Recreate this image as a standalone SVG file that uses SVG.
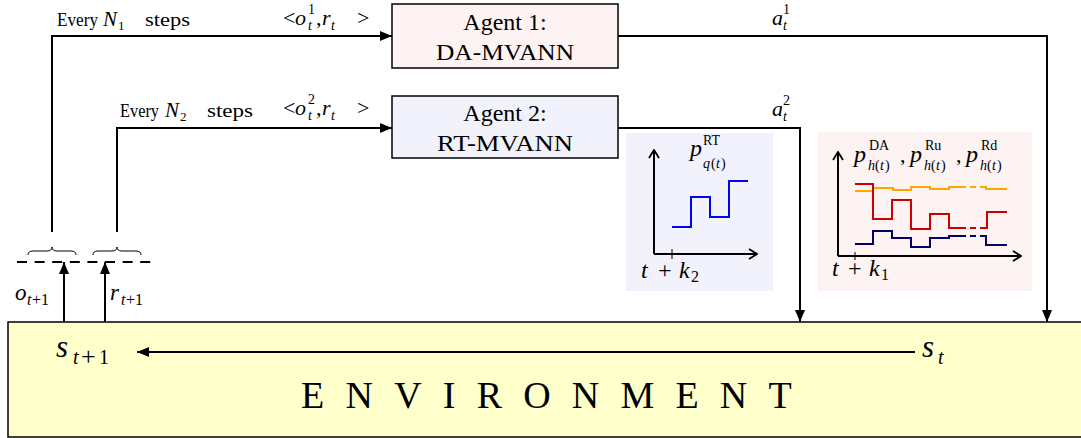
<svg xmlns="http://www.w3.org/2000/svg" width="1081" height="438" viewBox="0 0 1081 438" font-family="Liberation Serif, Times New Roman, serif">
<style>
text{font-family:"Liberation Serif","Times New Roman",serif;fill:#000}
.it{font-style:italic}
.lbl{font-size:19px}
.math{font-size:22px}
.sm{font-size:14px}
.box{font-size:24px;text-anchor:middle}
.ln{fill:none;stroke:#000;stroke-width:2}
.ax{fill:none;stroke:#000;stroke-width:2}
</style>
<defs>
<marker id="ah" viewBox="0 0 12 10" refX="12" refY="5" markerWidth="12" markerHeight="10" markerUnits="userSpaceOnUse" orient="auto">
<path d="M0,0 L12,5 L0,10 z" fill="#000"/>
</marker>
<marker id="ax" viewBox="0 0 10 12" refX="9" refY="6" markerWidth="10" markerHeight="12" markerUnits="userSpaceOnUse" orient="auto">
<path d="M1,1 L9,6 L1,11" fill="none" stroke="#000" stroke-width="1.8"/>
</marker>
</defs>

<g id="environment">
<rect x="8" y="322" width="1080" height="115" fill="#ffffcc" stroke="#000" stroke-width="1.5"/>
<text x="557" y="408" font-size="38" text-anchor="middle" letter-spacing="21.2">ENVIRONMENT</text>
<text class="it" x="56" y="357" font-size="31">s</text><text class="it" x="73" y="364" font-size="20">t</text><text x="81" y="365" font-size="26">+</text><text x="99" y="364" font-size="20">1</text>
<text class="it" x="922" y="357" font-size="31">s</text><text class="it" x="938" y="364" font-size="20">t</text>
</g>

<g id="agent1">
<rect x="392" y="4" width="226" height="64" fill="#fdf3f3" stroke="#000" stroke-width="1.5"/>
<text class="box" x="505" y="30">Agent 1:</text>
<text class="box" x="505" y="60" textLength="138" lengthAdjust="spacingAndGlyphs">DA-MVANN</text>
</g>

<g id="agent2">
<rect x="392" y="96" width="226" height="62" fill="#f2f2fd" stroke="#000" stroke-width="1.5"/>
<text class="box" x="505" y="121">Agent 2:</text>
<text class="box" x="505" y="151" textLength="136" lengthAdjust="spacingAndGlyphs">RT-MVANN</text>
</g>

<g id="plot-rt">
<rect x="626" y="133" width="147" height="158" fill="#f2f2fd"/>
<path class="ax" d="M654,254 V150" marker-end="url(#ax)"/>
<path class="ax" d="M654,254 H757" marker-end="url(#ax)"/>
<path d="M672,249 V259" stroke="#000" stroke-width="1"/>
<path d="M672,227 H691 V197 H710 V217 H729 V181 H748" fill="none" stroke="#0000ff" stroke-width="2"/>
<text class="it" x="690" y="156" font-size="24">p</text>
<text x="703" y="145" font-size="14">RT</text>
<text class="it" x="703" y="168" font-size="14">q</text><text x="711" y="168" font-size="14">(</text><text class="it" x="716" y="168" font-size="14">t</text><text x="721" y="168" font-size="14">)</text>
<text class="it" x="641" y="278" font-size="24">t</text><text x="658" y="278" font-size="24">+</text><text class="it" x="679" y="278" font-size="24">k</text><text x="691" y="282" font-size="16">2</text>
</g>

<g id="plot-da">
<rect x="818" y="132" width="214" height="159" fill="#fdf3f3"/>
<path class="ax" d="M838,256 V152" marker-end="url(#ax)"/>
<path class="ax" d="M838,256 H1021" marker-end="url(#ax)"/>
<path d="M855,252 V260" stroke="#000" stroke-width="1"/>
<path d="M855,191 H873 V188 H893 V190 H911 V187 H930 V189 H949 V187 H960" fill="none" stroke="#ffa500" stroke-width="2"/>
<path d="M960,187 H980" fill="none" stroke="#ffa500" stroke-width="2" stroke-dasharray="6,4"/>
<path d="M980,187 H986 V189 H1007" fill="none" stroke="#ffa500" stroke-width="2"/>
<path d="M855,184 H873 V219 H892 V200 H911 V229 H930 V214 H949 V228 H960" fill="none" stroke="#cc0000" stroke-width="2"/>
<path d="M960,228 H980" fill="none" stroke="#cc0000" stroke-width="2" stroke-dasharray="6,4"/>
<path d="M980,228 H987 V212 H1007" fill="none" stroke="#cc0000" stroke-width="2"/>
<path d="M855,244 H873 V231 H892 V238 H911 V247 H930 V238 H949 V236 H960" fill="none" stroke="#000066" stroke-width="2"/>
<path d="M960,236 H980" fill="none" stroke="#000066" stroke-width="2" stroke-dasharray="6,4"/>
<path d="M980,236 H986 V245 H1007" fill="none" stroke="#000066" stroke-width="2"/>
<text class="it" x="854" y="162" font-size="24">p</text>
<text x="869" y="150" font-size="14">DA</text>
<text class="it" x="868" y="170" font-size="14">h</text><text x="875" y="170" font-size="14">(</text><text class="it" x="880" y="170" font-size="14">t</text><text x="885" y="170" font-size="14">)</text>
<text x="900" y="162" font-size="22">,</text>
<text class="it" x="910" y="162" font-size="24">p</text>
<text x="925" y="150" font-size="14">Ru</text>
<text class="it" x="924" y="170" font-size="14">h</text><text x="931" y="170" font-size="14">(</text><text class="it" x="936" y="170" font-size="14">t</text><text x="941" y="170" font-size="14">)</text>
<text x="956" y="162" font-size="22">,</text>
<text class="it" x="966" y="162" font-size="24">p</text>
<text x="981" y="150" font-size="14">Rd</text>
<text class="it" x="980" y="170" font-size="14">h</text><text x="987" y="170" font-size="14">(</text><text class="it" x="992" y="170" font-size="14">t</text><text x="997" y="170" font-size="14">)</text>
<text class="it" x="832" y="276" font-size="24">t</text><text x="848" y="276" font-size="24">+</text><text class="it" x="869" y="276" font-size="24">k</text><text x="881" y="280" font-size="16">1</text>
</g>

<g id="observation-buffer">
<path d="M17,262 H155" stroke="#000" stroke-width="2" stroke-dasharray="10,7.6"/>
<path d="M28,255 q0,-4 5,-4 h14 q5,0 5,-4 q0,4 5,4 h14 q5,0 5,4" fill="none" stroke="#000" stroke-width="1"/>
<path d="M93,255 q0,-4 5,-4 h14 q5,0 5,-4 q0,4 5,4 h14 q5,0 5,4" fill="none" stroke="#000" stroke-width="1"/>
<text class="it" x="15" y="300" font-size="23">o</text><text class="it" x="27" y="305" font-size="16">t</text><text x="32" y="305" font-size="16">+1</text>
<text class="it" x="110" y="300" font-size="23">r</text><text class="it" x="121" y="305" font-size="16">t</text><text x="126" y="305" font-size="16">+1</text>
</g>

<g id="connectors">
<path class="ln" d="M52,232 V36 H392" marker-end="url(#ah)"/>
<path class="ln" d="M117,232 V128 H392" marker-end="url(#ah)"/>
<path class="ln" d="M618,36 H1047 V322" marker-end="url(#ah)"/>
<path class="ln" d="M618,128 H800 V322" marker-end="url(#ah)"/>
<path class="ln" d="M64,322 V262" marker-end="url(#ah)"/>
<path class="ln" d="M105,322 V262" marker-end="url(#ah)"/>
<path class="ln" d="M915,352 H137" marker-end="url(#ah)"/>
</g>

<g id="labels">
<text class="lbl" x="57" y="26" textLength="41" lengthAdjust="spacingAndGlyphs">Every</text><text class="it" x="103" y="26" font-size="21">N</text><text x="118" y="30" font-size="13">1</text><text class="lbl" x="145" y="26" textLength="45" lengthAdjust="spacingAndGlyphs">steps</text>
<text class="lbl" x="120" y="117" textLength="39" lengthAdjust="spacingAndGlyphs">Every</text><text class="it" x="165" y="117" font-size="21">N</text><text x="180" y="121" font-size="13">2</text><text class="lbl" x="207" y="117" textLength="46" lengthAdjust="spacingAndGlyphs">steps</text>
<text class="math" x="283" y="25">&lt;</text><text class="math it" x="295" y="25">o</text>
<text class="sm" x="308" y="14">1</text><text class="sm it" x="308" y="30">t</text>
<text class="math" x="316" y="25">,</text><text class="math it" x="322" y="25">r</text><text class="sm it" x="331" y="30">t</text>
<text class="math" x="357" y="25">&gt;</text>
<text class="math" x="283" y="115">&lt;</text><text class="math it" x="295" y="115">o</text>
<text class="sm" x="308" y="104">2</text><text class="sm it" x="308" y="120">t</text>
<text class="math" x="316" y="115">,</text><text class="math it" x="322" y="115">r</text><text class="sm it" x="331" y="120">t</text>
<text class="math" x="357" y="115">&gt;</text>
<text class="math it" x="772" y="25">a</text><text class="sm" x="783" y="14">1</text><text class="sm it" x="783" y="30">t</text>
<text class="math it" x="772" y="116">a</text><text class="sm" x="783" y="105">2</text><text class="sm it" x="783" y="121">t</text>
</g>
</svg>
